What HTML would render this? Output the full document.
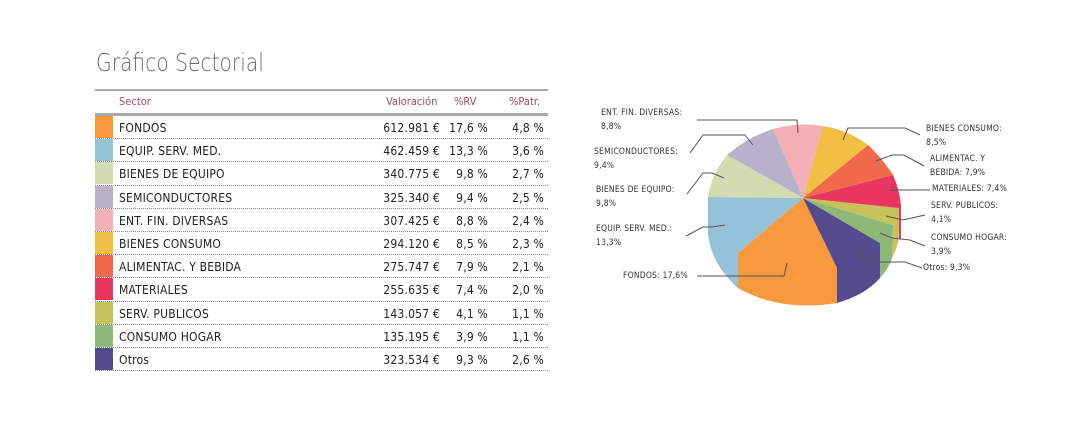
<!DOCTYPE html>
<html><head><meta charset="utf-8"><style>
body{margin:0;background:#fff;width:1083px;height:445px;position:relative;overflow:hidden;font-family:"DejaVu Sans Condensed","Liberation Sans",sans-serif;}
.t{position:absolute;white-space:nowrap}
.title{left:96px;top:48px;font-family:"DejaVu Sans","Liberation Sans",sans-serif;font-weight:200;font-size:25px;color:#6a6a6a;letter-spacing:0px;transform:scaleX(0.81);transform-origin:left}
.hd{font-size:11px;color:#a84a5e;top:95px}
.row{position:absolute;left:95px;width:453px;height:23.2px;border-bottom:1px dotted #888;box-sizing:border-box}
.sw{position:absolute;left:0;top:0;width:18px;height:22px}
.row span{position:absolute;top:5px;font-size:12px;color:#222;letter-spacing:0.2px}
.lb{font-size:8.5px;color:#333;line-height:14px;position:absolute;letter-spacing:0.2px}
</style></head><body>
<div class="t title">Gráfico Sectorial</div>
<div style="position:absolute;left:95px;top:89px;width:453px;height:2px;background:#aaa"></div>
<div class="t hd" style="left:119px">Sector</div>
<div class="t hd" style="left:386px">Valoración</div>
<div class="t hd" style="left:454px">%RV</div>
<div class="t hd" style="left:509px">%Patr.</div>
<div style="position:absolute;left:95px;top:113px;width:453px;height:3px;background:#aaa"></div>
<div id="rows"></div>
<script>
var d=[["FONDOS","612.981 €","17,6 %","4,8 %","#f7993c"],["EQUIP. SERV. MED.","462.459 €","13,3 %","3,6 %","#95c2d8"],["BIENES DE EQUIPO","340.775 €","9,8 %","2,7 %","#d3dbb0"],["SEMICONDUCTORES","325.340 €","9,4 %","2,5 %","#b8b1cc"],["ENT. FIN. DIVERSAS","307.425 €","8,8 %","2,4 %","#f5afb6"],["BIENES CONSUMO","294.120 €","8,5 %","2,3 %","#f2bf44"],["ALIMENTAC. Y BEBIDA","275.747 €","7,9 %","2,1 %","#f0694a"],["MATERIALES","255.635 €","7,4 %","2,0 %","#e8365e"],["SERV. PUBLICOS","143.057 €","4,1 %","1,1 %","#c6c35a"],["CONSUMO HOGAR","135.195 €","3,9 %","1,1 %","#8cb878"],["Otros","323.534 €","9,3 %","2,6 %","#534b8e"]];
var h="";d.forEach(function(r,i){h+='<div class="row" style="top:'+(116+i*23.2)+'px"><div class="sw" style="background:'+r[4]+'"></div><span style="left:24px">'+r[0]+'</span><span style="right:108px">'+r[1]+'</span><span style="right:60px">'+r[2]+'</span><span style="right:4px">'+r[3]+'</span></div>';});
document.getElementById("rows").innerHTML=h;
</script>
<svg style="position:absolute;left:0;top:0" width="1083" height="445">
<g stroke="none">
<path d="M803,198 L738,253 L738,288 Q780,312 837,303 L837,268 Z" fill="#f7993c"/>
<path d="M803,198 L837,268 L837,303 Q865,295 880,278 L880,243 Z" fill="#534b8e"/>
<path d="M803,198 L880,243 L880,278 Q889,268 892,258 L893,225 Z" fill="#8cb878"/>
<path d="M803,198 L893,225 L892,258 Q899,245 899,232 L899,208 Z" fill="#c6c35a"/>
<path d="M803,198 L899,208 L899,240 L901,238 L901,205 Q899,188 893,175 Z" fill="#e8365e"/>
<path d="M803,198 L893,175 Q882,158 868,145 Z" fill="#f0694a"/>
<path d="M803,198 L868,145 Q848,130 823,126 Z" fill="#f2bf44"/>
<path d="M803,198 L823,126 Q798,122 773,129 Z" fill="#f5afb6"/>
<path d="M803,198 L773,129 Q748,137 727,155 Z" fill="#b8b1cc"/>
<path d="M803,198 L727,155 Q711,175 708,197 Z" fill="#d3dbb0"/>
<path d="M803,198 L708,197 L708,235 Q712,265 738,288 L738,253 Z" fill="#95c2d8"/>
</g>
<g stroke="#555" stroke-width="1" fill="none">
<polyline points="697,120 797,120 798,133"/>
<polyline points="690,153 703,135 745,135 753,145"/>
<polyline points="687,194 703,173 712,173 724,178"/>
<polyline points="686,236 703,227 712,227 725,225"/>
<polyline points="697,276 784,276 787,263"/>
<polyline points="843,140 848,128 905,128 920,135"/>
<polyline points="876,161 892,155 904,155 924,166"/>
<polyline points="889,190 930,190"/>
<polyline points="886,216 903,220 925,215"/>
<polyline points="880,233 892,238 910,240 925,246"/>
<polyline points="857,251 866,262 905,262 922,268"/>
</g>
</svg>
<div class="lb" style="left:601px;top:106px">ENT. FIN. DIVERSAS:<br>8,8%</div>
<div class="lb" style="left:594px;top:145px">SEMICONDUCTORES:<br>9,4%</div>
<div class="lb" style="left:596px;top:183px">BIENES DE EQUIPO:<br>9,8%</div>
<div class="lb" style="left:596px;top:222px">EQUIP. SERV. MED.:<br>13,3%</div>
<div class="lb" style="left:623px;top:269px">FONDOS: 17,6%</div>
<div class="lb" style="left:926px;top:122px">BIENES CONSUMO:<br>8,5%</div>
<div class="lb" style="left:930px;top:152px">ALIMENTAC. Y<br>BEBIDA: 7,9%</div>
<div class="lb" style="left:932px;top:182px">MATERIALES: 7,4%</div>
<div class="lb" style="left:931px;top:199px">SERV. PUBLICOS:<br>4,1%</div>
<div class="lb" style="left:931px;top:231px">CONSUMO HOGAR:<br>3,9%</div>
<div class="lb" style="left:923px;top:261px">Otros: 9,3%</div>
</body></html>
